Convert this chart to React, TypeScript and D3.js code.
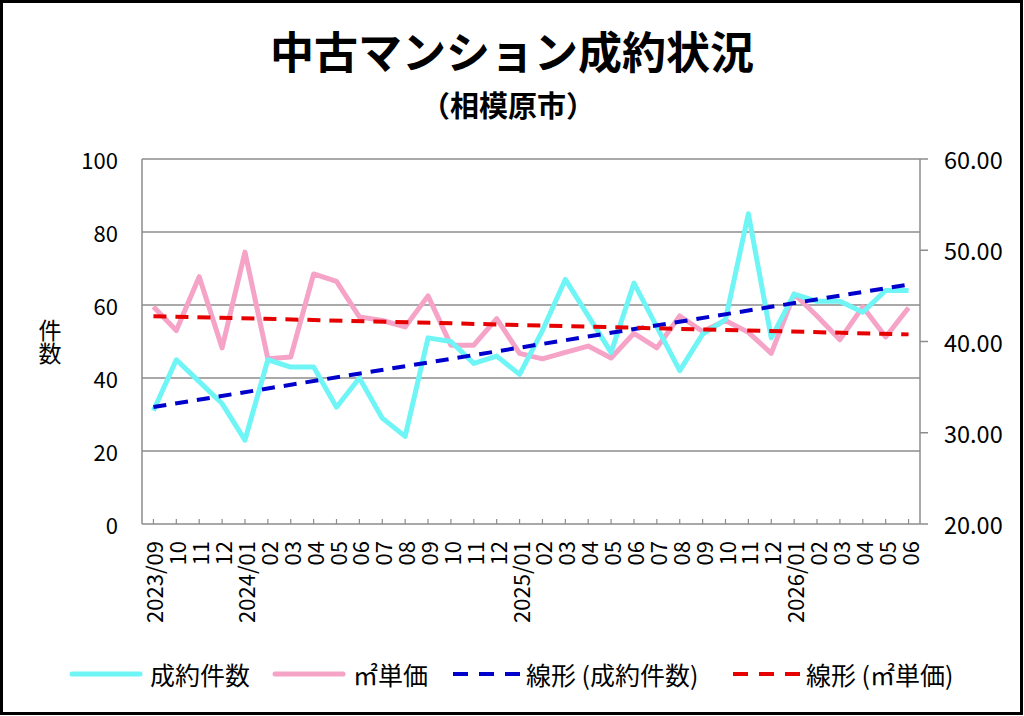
import { useMemo } from 'react'
import * as d3 from 'd3'

// Monthly data, 2023/09 - 2026/06
const months = [
  '2023/09', '10', '11', '12',
  '2024/01', '02', '03', '04', '05', '06', '07', '08', '09', '10', '11', '12',
  '2025/01', '02', '03', '04', '05', '06', '07', '08', '09', '10', '11', '12',
  '2026/01', '02', '03', '04', '05', '06'
]

// 成約件数 (left axis)
const contracts = [
  31, 45, 39, 33,
  23, 45, 43, 43, 32, 40, 29, 24, 51, 50, 44, 46,
  41, 53, 67, 57, 47, 66, 54, 42, 52, 56, 85, 51,
  63, 61, 61, 58, 64, 64
]

// ㎡単価 (right axis)
const unitPrice = [
  43.8, 41.2, 47.1, 39.3,
  49.8, 38.1, 38.3, 47.4, 46.6, 42.7, 42.3, 41.6, 45.0, 39.6, 39.6, 42.5,
  38.7, 38.1, 38.8, 39.5, 38.2, 40.9, 39.3, 42.8, 41.1, 42.3, 41.0, 38.7,
  45.2, 42.8, 40.2, 43.8, 40.5, 43.7
]

const leftTicks = [0, 20, 40, 60, 80, 100]
const rightTicks = [20, 30, 40, 50, 60]

const FONT = '"Noto Sans CJK JP", "Noto Sans", sans-serif'
const CYAN = '#6ff5f5'
const PINK = '#f5a3c7'
const BLUE = '#0000cc'
const RED = '#e60000'
const GRID = '#8c8c8c'

// least-squares trend over the category index
function trend(values: number[]) {
  const n = values.length
  const xs = values.map((_, i) => i)
  const mx = d3.mean(xs) as number
  const my = d3.mean(values) as number
  const sxy = d3.sum(xs, (x, i) => (x - mx) * (values[i] - my))
  const sxx = d3.sum(xs, x => (x - mx) ** 2)
  const b = sxy / sxx
  const a = my - b * mx
  return [a, a + b * (n - 1)]
}

export default function App() {
  const W = 1024
  const H = 716
  const left = 142
  const right = 920
  const top = 159
  const bottom = 524

  const x = useMemo(
    () => d3.scalePoint<number>().domain(d3.range(months.length)).range([left, right]).padding(0.5),
    []
  )
  const yL = d3.scaleLinear().domain([0, 100]).range([bottom, top])
  const yR = d3.scaleLinear().domain([20, 60]).range([bottom, top])

  const lineL = d3.line<number>().x((_, i) => x(i) as number).y(d => yL(d))
  const lineR = d3.line<number>().x((_, i) => x(i) as number).y(d => yR(d))

  const [c0, c1] = trend(contracts)
  const [p0, p1] = trend(unitPrice)
  const last = months.length - 1

  const legend = [
    { color: CYAN, dash: null, label: '成約件数', x0: 72, tx: 150 },
    { color: PINK, dash: null, label: '㎡単価', x0: 275, tx: 353 },
    { color: BLUE, dash: '15 11', label: '線形 (成約件数)', x0: 453, tx: 526 },
    { color: RED, dash: '15 11', label: '線形 (㎡単価)', x0: 733, tx: 806 }
  ]

  return (
    <div style={{ position: 'absolute', left: 0, top: 0, background: '#fff' }}>
      <svg width={W} height={H} style={{ display: 'block', fontFamily: FONT }}>
        <rect x={0} y={0} width={W} height={H} fill="#fff" />
        <rect x={1.5} y={1.5} width={W - 4} height={H - 4} fill="none" stroke="#000" strokeWidth={3} />

        <text x={512} y={69} textAnchor="middle" fontSize={44} fontWeight={700} fill="#000">
          中古マンション成約状況
        </text>
        <text x={508} y={117} textAnchor="middle" fontSize={29} fontWeight={700} fill="#000">
          （相模原市）
        </text>

        {/* grid */}
        {leftTicks.map(t => (
          <line key={t} x1={left} x2={right} y1={yL(t)} y2={yL(t)} stroke={GRID} strokeWidth={1.5} />
        ))}
        <line x1={left} x2={left} y1={top} y2={bottom} stroke={GRID} strokeWidth={1.5} />
        <line x1={right} x2={right} y1={top} y2={bottom} stroke={GRID} strokeWidth={1.5} />

        {/* bottom inner ticks */}
        {months.map((_, i) => (
          <line key={i} x1={x(i)} x2={x(i)} y1={bottom} y2={bottom - 5} stroke={GRID} strokeWidth={1.2} />
        ))}
        {/* right outer ticks */}
        {rightTicks.map(t => (
          <line key={t} x1={right} x2={right + 8} y1={yR(t)} y2={yR(t)} stroke={GRID} strokeWidth={1.5} />
        ))}

        {/* left tick labels */}
        {leftTicks.map(t => (
          <text key={t} x={118} y={yL(t)} textAnchor="end" dominantBaseline="central" fontSize={22} fill="#000">
            {t}
          </text>
        ))}
        {/* right tick labels */}
        {rightTicks.map(t => (
          <text key={t} x={944} y={yR(t)} dominantBaseline="central" fontSize={23.5} fill="#000">
            {t.toFixed(2)}
          </text>
        ))}

        {/* axis title, stacked vertically */}
        <text
          x={50}
          y={342}
          textAnchor="middle"
          fontSize={23}
          fill="#000"
          style={{ writingMode: 'vertical-rl' }}
        >
          件数
        </text>

        {/* x labels */}
        {months.map((m, i) => (
          <text
            key={i}
            transform={`translate(${x(i)},${541}) rotate(-90)`}
            textAnchor="end"
            dominantBaseline="central"
            fontSize={22}
            fill="#000"
          >
            {m}
          </text>
        ))}

        {/* series */}
        <path d={lineR(unitPrice) as string} fill="none" stroke={PINK} strokeWidth={5} strokeLinejoin="round" />
        <path d={lineL(contracts) as string} fill="none" stroke={CYAN} strokeWidth={5} strokeLinejoin="round" />

        {/* trend lines */}
        <line x1={x(0)} x2={x(last)} y1={yL(c0)} y2={yL(c1)} stroke={BLUE} strokeWidth={4} strokeDasharray="13 9" />
        <line x1={x(0)} x2={x(last)} y1={yR(p0)} y2={yR(p1)} stroke={RED} strokeWidth={4} strokeDasharray="13 9" />

        {/* legend */}
        {legend.map(l => (
          <g key={l.label}>
            <line
              x1={l.x0}
              x2={l.x0 + (l.dash ? 67 : 68)}
              y1={674}
              y2={674}
              stroke={l.color}
              strokeWidth={l.dash ? 4 : 5}
              strokeDasharray={l.dash ?? undefined}
              strokeLinecap={l.dash ? 'butt' : 'round'}
            />
            <text x={l.tx} y={674} dominantBaseline="central" fontSize={25} fill="#000">
              {l.label}
            </text>
          </g>
        ))}
      </svg>
    </div>
  )
}
